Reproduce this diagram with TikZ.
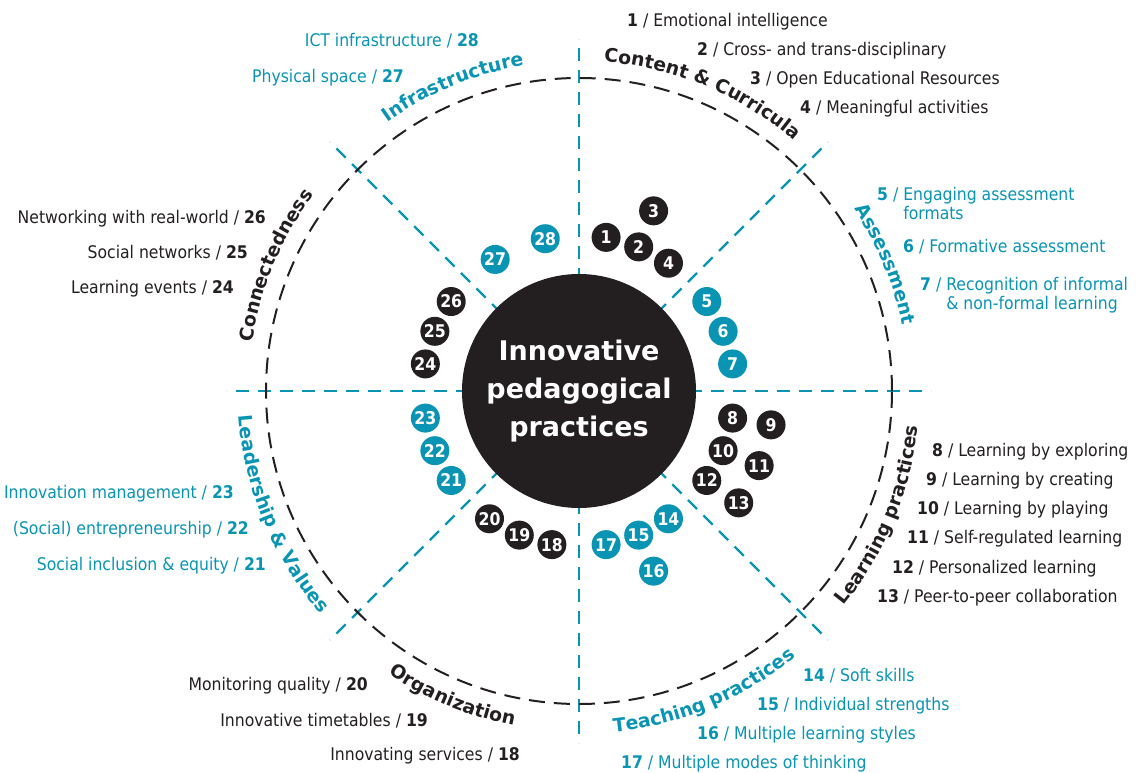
\documentclass[tikz,border=0pt]{standalone}
\usepackage{fontspec}
\setmainfont{DejaVu Sans Condensed}
\newfontfamily\widefont{DejaVu Sans}
\usetikzlibrary{decorations.text}
\definecolor{tealc}{HTML}{0894B2}
\definecolor{darkc}{HTML}{231F20}
\newcommand\catfont{\widefont\bfseries\fontsize{18.8}{22}\selectfont}
\newcommand\itemfont{\fontsize{17.4}{20}\selectfont}
\newcommand\numfont{\bfseries\fontsize{17.5}{17.5}\selectfont}
\newcommand\centerfont{\widefont\bfseries\fontsize{27}{38}\selectfont}
\begin{document}
\begin{tikzpicture}[x=1pt,y=1pt,
  num/.style={circle, fill=#1, minimum size=29pt, inner sep=0pt, text=white, font=\numfont},
  itemL/.style={font=\itemfont, inner sep=0pt, anchor=base west, text=#1},
  itemR/.style={font=\itemfont, inner sep=0pt, anchor=base east, text=#1},
  sepline/.style={tealc, line width=2.2pt, dash pattern=on 13pt off 9pt},
  ring/.style={darkc, line width=2pt, dash pattern=on 16pt off 9pt},
  catlab/.style={decorate, decoration={text along path, text align=center, text={#1}}}
]
\useasboundingbox (-579,-381) rectangle (559,391);
% sector separators
\foreach \a in {0,45,...,315} \draw[sepline] (0,0) -- (\a:352);
% dashed ring
\draw[ring] (0,0) circle[radius=313pt];
% centre
\node[circle, fill=darkc, minimum size=234pt, inner sep=0pt, text=white, font=\centerfont, align=center] (centre) at (0,0) {Innovative\\pedagogical\\practices};
% category labels
\path[catlab={|\catfont\color{darkc}|Content {\&} Curricula}] (97.5:330) arc[start angle=97.5, end angle=37.5, radius=330pt];
\path[catlab={|\catfont\color{tealc}|Assessment}] (52.5:330) arc[start angle=52.5, end angle=-7.5, radius=330pt];
\path[catlab={|\catfont\color{darkc}|Connectedness}] (187.5:330) arc[start angle=187.5, end angle=127.5, radius=330pt];
\path[catlab={|\catfont\color{tealc}|Infrastructure}] (142.5:330) arc[start angle=142.5, end angle=82.5, radius=330pt];
\path[catlab={|\catfont\color{darkc}|Learning practices}] (-52.5:341) arc[start angle=-52.5, end angle=7.5, radius=341pt];
\path[catlab={|\catfont\color{tealc}|Teaching practices}] (-97.5:343) arc[start angle=-97.5, end angle=-37.5, radius=343pt];
\path[catlab={|\catfont\color{darkc}|Organization}] (217.5:341) arc[start angle=217.5, end angle=277.5, radius=341pt];
\path[catlab={|\catfont\color{tealc}|Leadership {\&} Values}] (172.5:341) arc[start angle=172.5, end angle=232.5, radius=341pt];
% numbered circles
\node[num=darkc] (n1) at (80:156) {1};
\node[num=darkc] (n2) at (67.5:156) {2};
\node[num=darkc] (n3) at (67.5:195) {3};
\node[num=darkc] (n4) at (55:156) {4};
\node[num=tealc] (n5) at (35:156) {5};
\node[num=tealc] (n6) at (22.5:156) {6};
\node[num=tealc] (n7) at (10:156) {7};
\node[num=darkc] (n8) at (-10:156) {8};
\node[num=darkc] (n9) at (-10:195) {9};
\node[num=darkc] (n10) at (-22.5:156) {10};
\node[num=darkc] (n11) at (-22.5:195) {11};
\node[num=darkc] (n12) at (-35:156) {12};
\node[num=darkc] (n13) at (-35:195) {13};
\node[num=tealc] (n14) at (-55:156) {14};
\node[num=tealc] (n15) at (-67.5:156) {15};
\node[num=tealc] (n16) at (-67.5:195) {16};
\node[num=tealc] (n17) at (-80:156) {17};
\node[num=darkc] (n18) at (-100:156) {18};
\node[num=darkc] (n19) at (-112.5:156) {19};
\node[num=darkc] (n20) at (-125:156) {20};
\node[num=tealc] (n21) at (-145:156) {21};
\node[num=tealc] (n22) at (-157.5:156) {22};
\node[num=tealc] (n23) at (-170:156) {23};
\node[num=darkc] (n24) at (170:156) {24};
\node[num=darkc] (n25) at (157.5:156) {25};
\node[num=darkc] (n26) at (145:156) {26};
\node[num=tealc] (n27) at (122.5:156) {27};
\node[num=tealc] (n28) at (102.5:156) {28};
% right-hand lists
\node[itemL=darkc] (i1) at (48,364) {\textbf{1} / Emotional intelligence};
\node[itemL=darkc] (i2) at (118,335) {\textbf{2} / Cross- and trans-disciplinary};
\node[itemL=darkc] (i3) at (171,306) {\textbf{3} / Open Educational Resources};
\node[itemL=darkc] (i4) at (221,277) {\textbf{4} / Meaningful activities};
\node[itemL=tealc] (i5) at (298,191) {\textbf{5} / Engaging assessment};
\node[itemL=tealc] (i5b) at (298,172) {\phantom{\textbf{5} / }formats};
\node[itemL=tealc] (i6) at (324,139) {\textbf{6} / Formative assessment};
\node[itemL=tealc] (i7) at (341,101) {\textbf{7} / Recognition of informal};
\node[itemL=tealc] (i7b) at (341,82) {\phantom{\textbf{7} / }\& non-formal learning};
\node[itemL=darkc] (i8) at (353,-65) {\textbf{8} / Learning by exploring};
\node[itemL=darkc] (i9) at (347,-94) {\textbf{9} / Learning by creating};
\node[itemL=darkc] (i10) at (338,-123) {\textbf{10} / Learning by playing};
\node[itemL=darkc] (i11) at (328,-152) {\textbf{11} / Self-regulated learning};
\node[itemL=darkc] (i12) at (313,-182) {\textbf{12} / Personalized learning};
\node[itemL=darkc] (i13) at (298,-211) {\textbf{13} / Peer-to-peer collaboration};
\node[itemL=tealc] (i14) at (224,-290) {\textbf{14} / Soft skills};
\node[itemL=tealc] (i15) at (178,-319) {\textbf{15} / Individual strengths};
\node[itemL=tealc] (i16) at (118,-348) {\textbf{16} / Multiple learning styles};
\node[itemL=tealc] (i17) at (42,-377) {\textbf{17} / Multiple modes of thinking};
% left-hand lists
\node[itemR=darkc] (i18) at (-59,-369) {Innovating services / \textbf{18}};
\node[itemR=darkc] (i19) at (-151,-335) {Innovative timetables / \textbf{19}};
\node[itemR=darkc] (i20) at (-211,-299) {Monitoring quality / \textbf{20}};
\node[itemR=tealc] (i21) at (-313,-179) {Social inclusion \& equity / \textbf{21}};
\node[itemR=tealc] (i22) at (-330,-143) {(Social) entrepreneurship / \textbf{22}};
\node[itemR=tealc] (i23) at (-345,-107) {Innovation management / \textbf{23}};
\node[itemR=darkc] (i24) at (-345,98) {Learning events / \textbf{24}};
\node[itemR=darkc] (i25) at (-331,133) {Social networks / \textbf{25}};
\node[itemR=darkc] (i26) at (-313,168) {Networking with real-world / \textbf{26}};
\node[itemR=tealc] (i27) at (-175,308) {Physical space / \textbf{27}};
\node[itemR=tealc] (i28) at (-100,344) {ICT infrastructure / \textbf{28}};
\end{tikzpicture}
\end{document}
